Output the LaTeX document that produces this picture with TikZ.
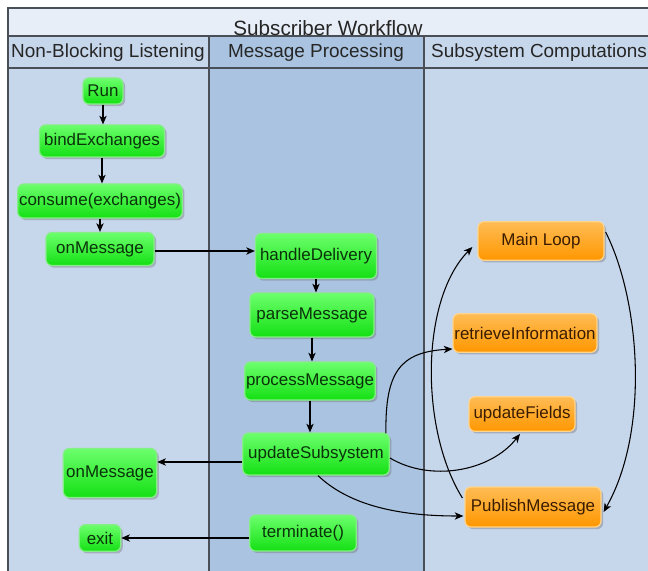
\documentclass[tikz,border=0pt]{standalone}
\usepackage{fontspec}
\setmainfont{Liberation Sans}
\usetikzlibrary{arrows.meta,shadows,calc}

\definecolor{band}{HTML}{E7EEF7}
\definecolor{laneA}{HTML}{C6D6EB}
\definecolor{laneB}{HTML}{A9C3E0}
\definecolor{frameline}{HTML}{4A4F57}
\definecolor{gtop}{HTML}{6CFF6C}
\definecolor{gbot}{HTML}{14E014}
\definecolor{gedge}{HTML}{86EE86}
\definecolor{gtext}{HTML}{0A330A}
\definecolor{otop}{HTML}{FFBC55}
\definecolor{obot}{HTML}{FF9700}
\definecolor{oedge}{HTML}{FFD58C}
\definecolor{otext}{HTML}{3A1C00}

\tikzset{
  lanerule/.style={draw=frameline, line width=0.8pt},
  boxbase/.style={rounded corners=4.5pt, line width=0.9pt, inner sep=1pt,
    font=\fontsize{12.7}{15}\selectfont,
    drop shadow={shadow xshift=1.6pt, shadow yshift=-1.6pt, opacity=0.35, fill=black!60}},
  gbox/.style={boxbase, draw=gedge, top color=gtop, bottom color=gbot, text=gtext},
  obox/.style={boxbase, draw=oedge, top color=otop, bottom color=obot, text=otext},
  flow/.style={draw=black, line width=0.8pt, -{Stealth[length=6.5pt, width=5.5pt, inset=1.8pt]}},
  headtext/.style={font=\fontsize{14.2}{17}\selectfont, text=black!85},
}

\begin{document}
\begin{tikzpicture}[x=0.75pt, y=-0.75pt]
\useasboundingbox (0,0) rectangle (648,570);
\clip (0,0) rectangle (648,570);

% swimlane backgrounds
\fill[white] (0,0) rectangle (648,570);
\fill[band]  (8,8) rectangle (660,36);
\fill[laneA] (8,36) rectangle (209,580);
\fill[laneB] (209,36) rectangle (424,580);
\fill[laneA] (424,36) rectangle (660,580);

% swimlane rules
\draw[lanerule] (8,580) -- (8,8) -- (660,8);
\draw[lanerule] (8,36) -- (660,36);
\draw[lanerule] (8,68) -- (660,68);
\draw[lanerule] (209,36) -- (209,580);
\draw[lanerule] (424,36) -- (424,580);

% titles
\node[font=\fontsize{15.5}{18}\selectfont, text=black!85] (title) at (328,28) {Subscriber Workflow};
\node[headtext] (h1) at (108,53) {Non-Blocking Listening};
\node[headtext] (h2) at (316,53) {Message Processing};
\node[headtext] (h3) at (539,53) {Subsystem Computations};

% listening lane
\node[gbox, minimum width=30pt,   minimum height=19.5pt]  (run)  at (103,91)  {Run};
\node[gbox, minimum width=93.75pt,minimum height=24pt]    (bind) at (102,141) {bindExchanges};
\node[gbox, minimum width=123pt,  minimum height=25.5pt]  (cons) at (100,201) {consume(exchanges)};
\node[gbox, minimum width=81pt,   minimum height=24.75pt] (om1)  at (100,249) {onMessage};
\node[gbox, minimum width=70pt,   minimum height=36.75pt] (om2)  at (110,473) {onMessage};
\node[gbox, minimum width=31pt,   minimum height=20pt]    (exit) at (100,538) {exit};

% processing lane
\node[gbox, minimum width=90.75pt, minimum height=33.75pt] (hd)   at (316,256) {handleDelivery};
\node[gbox, minimum width=93pt,    minimum height=33pt]    (pm)   at (312,315) {parseMessage};
\node[gbox, minimum width=97.5pt,  minimum height=28.5pt]  (proc) at (310,381) {processMessage};
\node[gbox, minimum width=110pt,   minimum height=31.5pt]  (upd)  at (316,454) {updateSubsystem};
\node[gbox, minimum width=80pt,    minimum height=27pt]    (term) at (303,533) {terminate()};

% subsystem lane
\node[obox, minimum width=94.5pt, minimum height=29pt] (loop) at (541,241) {Main Loop};
\node[obox, minimum width=105pt,  minimum height=29pt] (ret)  at (525,333) {retrieveInformation};
\node[obox, minimum width=79.5pt, minimum height=26pt] (uf)   at (522,414) {updateFields};
\node[obox, minimum width=102pt,  minimum height=30pt] (pub)  at (533,507) {PublishMessage};

% straight flow
\coordinate (om1out) at ($(om1.east)+(0,2)$);
\coordinate (updout) at ($(upd.west)+(0,8)$);
\draw[flow] (run.south)  -- (run.south  |- bind.north);
\draw[flow] (bind.south) -- (bind.south |- cons.north);
\draw[flow] (cons.south) -- (cons.south |- om1.north);
\draw[flow] (om1out) -- (om1out -| hd.west);
\draw[flow] (hd.south)   -- (hd.south   |- pm.north);
\draw[flow] (pm.south)   -- (pm.south   |- proc.north);
\draw[flow] (proc.south) -- (proc.south |- upd.north);
\draw[flow] (updout) -- (updout -| om2.east);
\draw[flow] (term.west |- exit) -- (exit.east);

% curved flow into the subsystem lane
\coordinate (updNE) at ($(upd.north east)+(-4,1)$);
\coordinate (updE)  at ($(upd.east)+(0,4)$);
\coordinate (updS)  at ($(upd.south)+(2,0)$);
\coordinate (retW)  at ($(ret.west)+(0,16)$);
\coordinate (ufS)   at ($(uf.south)+(-2,2)$);
\coordinate (pubW)  at ($(pub.west)+(-1,9)$);
\coordinate (pubNW) at ($(pub.west)+(-2,-9)$);
\coordinate (loopW) at ($(loop.west)+(-5,6)$);
\coordinate (loopE) at ($(loop.east)+(1,-9)$);
\coordinate (pubE)  at ($(pub.east)+(2,5)$);

\draw[flow] (updNE) .. controls (385,372) and (400,352) .. (retW);
\draw[flow] (updE) .. controls (430,482) and (490,472) .. (ufS);
\draw[flow] (updS) .. controls (350,506) and (400,516) .. (pubW);
\draw[flow] (pubNW) .. controls (420,430) and (420,300) .. (loopW);
\draw[flow] (loopE) .. controls (640,300) and (650,430) .. (pubE);
\end{tikzpicture}
\end{document}
